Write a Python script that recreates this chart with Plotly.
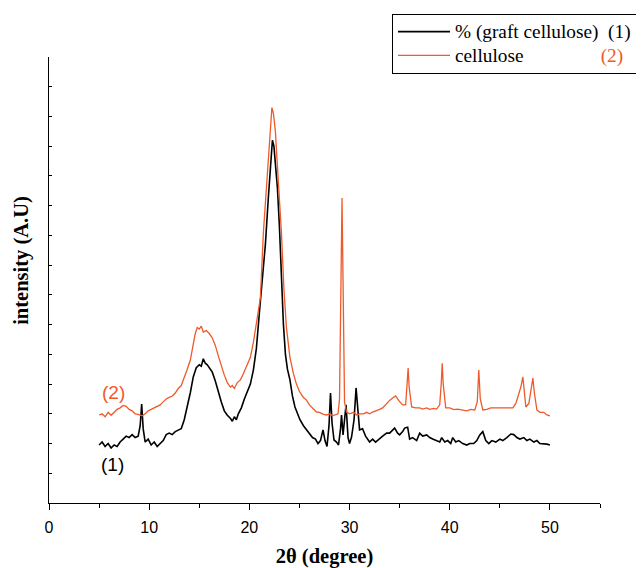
import plotly.graph_objects as go

# ---- data (2θ in degrees, intensity in arbitrary units) ----
graft_x = [5.0, 5.3, 5.6, 5.9, 6.2, 6.5, 6.8, 7.1, 7.4, 7.7, 8.0, 8.3, 8.6, 8.9, 9.1, 9.25, 9.4, 9.6, 9.9,
           10.2, 10.5, 10.8, 11.1, 11.4, 11.7, 12.0, 12.3, 12.6, 12.9, 13.2, 13.5, 13.8, 14.1, 14.4, 14.7,
           15.0, 15.2, 15.4, 15.6, 15.8, 16.0, 16.3, 16.6, 16.9, 17.2, 17.5, 17.8, 18.1, 18.3, 18.5, 18.7,
           18.9, 19.2, 19.5, 19.8, 20.1, 20.4, 20.7, 21.0, 21.3, 21.6, 21.9, 22.1, 22.3, 22.45, 22.6, 22.8,
           23.0, 23.2, 23.4, 23.6, 23.8, 24.05, 24.3, 24.55, 24.8, 25.05, 25.4, 25.7, 26.0, 26.3, 26.6,
           26.85, 27.1, 27.35, 27.55, 27.75, 27.95, 28.1, 28.25, 28.45, 28.7, 28.9, 29.1, 29.2, 29.35,
           29.5, 29.65, 29.85, 30.0, 30.2, 30.45, 30.65, 30.85, 31.0, 31.3, 31.6, 32.0, 32.3, 32.6, 33.0,
           33.3, 33.7, 34.0, 34.3, 34.5, 34.8, 35.0, 35.3, 35.5, 35.8, 36.0, 36.3, 36.7, 37.0, 37.3, 37.7,
           38.0, 38.3, 38.7, 39.0, 39.2, 39.5, 39.8, 40.1, 40.3, 40.6, 40.9, 41.3, 41.7, 42.0, 42.4, 42.7,
           43.0, 43.3, 43.6, 43.9, 44.2, 44.6, 45.0, 45.3, 45.7, 46.1, 46.4, 46.7, 47.0, 47.4, 47.7, 48.0,
           48.4, 48.7, 49.0, 49.4, 49.7, 50.0]
graft_y = [1.95, 2.05, 1.9, 2.0, 1.85, 1.95, 1.9, 2.05, 2.15, 2.25, 2.2, 2.3, 2.2, 2.25, 2.6, 3.33, 2.5, 2.05, 2.15,
           1.95, 2.05, 1.9, 2.0, 2.1, 2.3, 2.35, 2.3, 2.4, 2.45, 2.5, 2.8, 3.2, 3.7, 4.24, 4.55,
           4.65, 4.6, 4.85, 4.7, 4.65, 4.55, 4.4, 4.1, 3.7, 3.4, 3.1, 2.95, 2.85, 2.75, 2.9, 2.8,
           3.0, 3.2, 3.5, 3.75, 4.0, 4.47, 5.2, 6.4, 7.6, 8.7, 10.3, 11.4, 12.2, 12.0, 11.5, 10.6,
           9.3, 7.6, 6.0, 5.0, 4.5, 4.14, 3.6, 3.23, 3.0, 2.8, 2.6, 2.46, 2.35, 2.2, 2.15,
           2.0, 2.1, 2.46, 2.1, 1.9, 2.6, 3.7, 2.7, 2.12, 2.05, 1.95, 2.5, 2.96, 2.29,
           2.7, 3.3, 2.2, 2.0, 2.22, 2.8, 3.87, 2.9, 2.46, 2.5, 2.25, 2.05, 2.15, 2.05, 2.18,
           2.25, 2.35, 2.35, 2.45, 2.52, 2.35, 2.29, 2.4, 2.52, 2.55, 2.15, 2.2, 2.1, 2.35, 2.25, 2.29,
           2.2, 2.15, 2.1, 2.05, 2.2, 2.05, 2.1, 2.0, 2.2, 2.05, 2.1, 2.0, 1.95, 2.0, 2.0, 2.1,
           2.29, 2.4, 2.1, 2.0, 2.1, 2.05, 2.15, 2.1, 2.2, 2.32, 2.3, 2.2, 2.15, 2.2, 2.1, 2.15,
           2.05, 2.1, 2.0, 2.0, 1.98, 1.95]

cell_x = [5.0, 5.3, 5.6, 5.9, 6.2, 6.5, 6.8, 7.1, 7.4, 7.7, 8.0, 8.3, 8.6, 8.9, 9.3, 9.6, 9.9, 10.2, 10.5,
          10.8, 11.1, 11.4, 11.7, 12.0, 12.3, 12.6, 12.9, 13.2, 13.5, 13.8, 14.1, 14.4, 14.6, 14.8, 15.0,
          15.2, 15.4, 15.7, 16.0, 16.3, 16.6, 16.9, 17.2, 17.5, 17.8, 18.1, 18.3, 18.5, 18.8, 19.1, 19.4,
          19.7, 20.1, 20.4, 20.8, 21.1, 21.4, 21.7, 22.0, 22.25, 22.4, 22.6, 22.7, 22.9, 23.2, 23.45,
          23.7, 24.05, 24.4, 24.7, 25.0, 25.4, 25.7, 26.0, 26.4, 26.7, 27.0, 27.4, 27.7, 28.0, 28.3,
          28.6, 28.85, 29.0, 29.15, 29.25, 29.35, 29.5, 29.7, 30.0, 30.4, 30.7, 31.0, 31.4, 31.7, 32.0,
          32.3, 32.7, 33.0, 33.3, 33.7, 34.0, 34.3, 34.6, 34.9, 35.3, 35.6, 35.75, 35.85, 35.95, 36.2,
          36.6, 37.0, 37.3, 37.7, 38.0, 38.4, 38.7, 39.0, 39.15, 39.25, 39.35, 39.6, 40.0, 40.4, 40.8,
          41.3, 41.7, 42.1, 42.5, 42.75, 42.9, 43.05, 43.3, 43.7, 44.1, 44.5, 45.0, 45.4, 45.8, 46.3,
          46.6, 46.85, 47.1, 47.3, 47.45, 47.6, 47.9, 48.15, 48.3, 48.45, 48.7, 49.0, 49.4, 49.7, 50.0]
cell_y = [2.96, 3.0, 2.9, 3.05, 2.95, 3.05, 3.15, 3.2, 3.28, 3.25, 3.15, 3.1, 3.0, 2.98, 2.93, 3.0, 3.1, 3.15, 3.2,
          3.25, 3.3, 3.4, 3.5, 3.55, 3.6, 3.7, 3.85, 3.95, 4.2, 4.5, 4.8, 5.3, 5.7, 5.9, 5.85,
          5.95, 5.75, 5.8, 5.7, 5.55, 5.3, 4.95, 4.6, 4.3, 4.05, 3.9, 3.95, 3.85, 4.05, 4.14, 4.35,
          4.6, 4.9, 5.4, 6.26, 6.9, 9.1, 10.6, 12.4, 13.3, 13.1, 12.5, 11.9, 10.9, 9.1, 7.2,
          5.9, 4.9, 4.35, 4.0, 3.75, 3.55, 3.46, 3.3, 3.15, 3.06, 3.05, 2.98, 2.96, 3.0, 2.93,
          2.96, 3.0, 3.5, 7.0, 10.26, 7.5, 3.4, 3.06, 3.0, 3.05, 2.96, 3.0, 3.0, 3.05, 3.0,
          3.06, 3.1, 3.15, 3.2, 3.35, 3.45, 3.53, 3.6, 3.45, 3.3, 3.3, 3.9, 4.54, 3.9, 3.23,
          3.2, 3.2, 3.16, 3.2, 3.15, 3.18, 3.16, 3.3, 4.0, 4.7, 4.0, 3.2, 3.2, 3.14, 3.16,
          3.13, 3.1, 3.15, 3.13, 3.4, 4.47, 3.5, 3.13, 3.15, 3.2, 3.2, 3.2, 3.18, 3.2, 3.2,
          3.35, 3.63, 3.9, 4.24, 3.8, 3.23, 3.35, 3.9, 4.2, 3.7, 3.13, 3.05, 3.05, 2.96, 2.93]

x_ticks = [0, 10, 20, 30, 40, 50]
RED = "#EE5A2A"
NB = "\u00a0"
BIG = "<span style='font-size:19.3px'>{}</span>"

fig = go.Figure()
fig.add_trace(go.Scatter(
    x=graft_x, y=graft_y, mode="lines",
    line=dict(color="black", width=1.6),
    name=BIG.format("% (graft cellulose)" + NB * 2 + "(1)"),
))
fig.add_trace(go.Scatter(
    x=cell_x, y=cell_y, mode="lines",
    line=dict(color=RED, width=1.3),
    name=BIG.format("cellulose" + NB * 16 + f"<span style='color:{RED}'>(2)</span>"),
))

fig.add_annotation(x=6.4, y=3.73, text="(2)", showarrow=False,
                   font=dict(family="Liberation Sans, Arial", size=19, color=RED))
fig.add_annotation(x=6.3, y=1.28, text="(1)", showarrow=False,
                   font=dict(family="Liberation Sans, Arial", size=19, color="black"))
fig.add_annotation(xref="paper", yref="paper", x=-0.049, y=0.543, text="<b>intensity (A.U)</b>",
                   textangle=-90, showarrow=False, xanchor="center", yanchor="middle",
                   font=dict(family="Liberation Serif, Times New Roman", size=20.5, color="black"))

fig.update_layout(
    width=644, height=560,
    margin=dict(l=41, r=52, t=49, b=65, autoexpand=False),
    plot_bgcolor="white", paper_bgcolor="white",
    showlegend=True,
    legend=dict(
        x=0.6225, y=1.097, xanchor="left", yanchor="top",
        bgcolor="white", bordercolor="black", borderwidth=1,
        font=dict(family="Liberation Serif, Times New Roman", size=16, color="black"),
        tracegroupgap=0, itemwidth=52,
    ),
    xaxis=dict(
        range=[0, 55], tickvals=x_ticks, ticktext=[str(v) for v in x_ticks],
        showgrid=False, zeroline=False, showline=True, linecolor="black", linewidth=1.3,
        ticks="outside", ticklen=6, tickcolor="black", ticklabelstandoff=4,
        minor=dict(dtick=5, ticks="outside", ticklen=4, tickcolor="black", showgrid=False),
        tickfont=dict(family="Liberation Sans, Arial", size=16, color="black"),
        title=dict(text="<b>2θ (degree)</b>", standoff=15,
                   font=dict(family="Liberation Serif, Times New Roman", size=20.5, color="black")),
    ),
    yaxis=dict(
        range=[0, 15], dtick=1, showticklabels=False,
        showgrid=False, zeroline=False, showline=True, linecolor="black", linewidth=1.3,
        ticks="inside", ticklen=3, tickcolor="black",
    ),
)

fig.write_html("out.html")
